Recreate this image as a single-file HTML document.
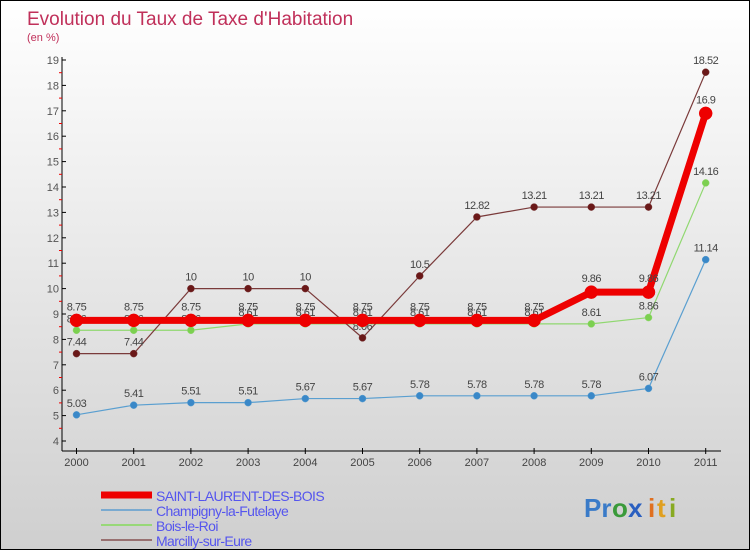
<!DOCTYPE html>
<html><head><meta charset="utf-8"><style>
body{margin:0}
#wrap{width:750px;height:550px;position:relative;box-sizing:border-box;border:1px solid #000;background:linear-gradient(#fff,#cfcfcf);font-family:"Liberation Sans",sans-serif;overflow:hidden}
svg{position:absolute;left:0;top:0}
</style></head><body>
<div id="wrap">
<svg id="c" width="750" height="550">
<text x="26" y="24" font-size="19" fill="#c0305a">Evolution du Taux de Taxe d'Habitation</text>
<text x="26" y="40" font-size="11" fill="#c0305a">(en %)</text>
<g id="axes"></g><g id="series"></g><g id="legend"></g>
<g font-size="26" font-weight="bold" font-family="Liberation Sans, sans-serif">
<text x="583" y="516" fill="#3a7bc8">Pr</text><text x="611" y="516" fill="#3a9a3a">o</text><text x="627" y="516" fill="#2a5fc0">x</text><text x="647" y="516" fill="#e07020">i</text><text x="656" y="516" fill="#e0a020">t</text><text x="668" y="516" fill="#88aa22">i</text>
</g>
</svg></div>
<script>
const years=[2000,2001,2002,2003,2004,2005,2006,2007,2008,2009,2010,2011];
const slb=[8.75,8.75,8.75,8.75,8.75,8.75,8.75,8.75,8.75,9.86,9.86,16.9];
const champ=[5.03,5.41,5.51,5.51,5.67,5.67,5.78,5.78,5.78,5.78,6.07,11.14];
const bois=[8.36,8.36,8.36,8.61,8.61,8.61,8.61,8.61,8.61,8.61,8.86,14.16];
const marc=[7.44,7.44,10,10,10,8.06,10.5,12.82,13.21,13.21,13.21,18.52];
const yTicks=[4,5,6,7,8,9,10,11,12,13,14,15,16,17,18,19];
const NS="http://www.w3.org/2000/svg";
const X=i=>75.5+i*57.2;
const Y=v=>440-(v-4)*25.4;
function mk(t,a,p){const e=document.createElementNS(NS,t);for(const k in a)e.setAttribute(k,a[k]);p.appendChild(e);return e;}
const ax=document.getElementById('axes');
let l=mk('line',{x1:61,y1:56,x2:61,y2:450,stroke:'#000'},ax);

l=mk('line',{x1:61,y1:450,x2:720,y2:450,stroke:'#000'},ax);

yTicks.forEach(v=>{
 mk('line',{x1:61,y1:Y(v),x2:65,y2:Y(v),stroke:'#000'},ax);
 if(v<19)mk('line',{x1:58,y1:Y(v+0.5),x2:61,y2:Y(v+0.5),stroke:'#e00'},ax);
 const t=mk('text',{x:58,y:Y(v)+4,'font-size':11,fill:'#555','text-anchor':'end'},ax);t.textContent=v;
 
});
years.forEach((y,i)=>{
 mk('line',{x1:X(i),y1:447,x2:X(i),y2:453,stroke:'#000'},ax);
 const t=mk('text',{x:X(i),y:465,'font-size':11,fill:'#444','text-anchor':'middle'},ax);t.textContent=y;
 
});
const sg=document.getElementById('series');
function draw(vals,color,dot,w,r,name,labOff){
 const g=mk('g',{},sg);
 
 mk('polyline',{points:vals.map((v,i)=>X(i)+','+Y(v)).join(' '),fill:'none',stroke:color,'stroke-width':w},g);
 vals.forEach((v,i)=>{
  const c=mk('circle',{cx:X(i),cy:Y(v),r:r,fill:dot,stroke:color,'stroke-width':0.5},g);
  
  const t=mk('text',{x:X(i),y:Y(v)-labOff,'font-size':11,fill:'#444','text-anchor':'middle','letter-spacing':'-0.5'},g);t.textContent=v;
 });
}
draw(champ,'#5a9fd0','#3a88c8',1.2,3.5,'series-champigny',8);
draw(bois,'#90d870','#7cd050',1.2,3.5,'series-bois-le-roi',8);
draw(marc,'#7a3a3a','#6a1818',1.2,3.5,'series-marcilly',8);
draw(slb,'#ee0000','#ee0000',7,6.5,'series-saint-laurent',10);
const lg=document.getElementById('legend');
const items=[['SAINT-LAURENT-DES-BOIS','#ee0000',7],['Champigny-la-Futelaye','#7aaad0',2],['Bois-le-Roi','#98d878',2],['Marcilly-sur-Eure','#987070',2]];
items.forEach((it,i)=>{
 const y=494+i*15;
 const g=mk('g',{},lg);
 
 mk('line',{x1:100,y1:y,x2:151,y2:y,stroke:it[1],'stroke-width':it[2]},g);
 const t=mk('text',{x:155,y:y+6,'font-size':14,fill:'#5555ee','letter-spacing':'-0.6'},g);t.textContent=it[0];
});
</script></body></html>
